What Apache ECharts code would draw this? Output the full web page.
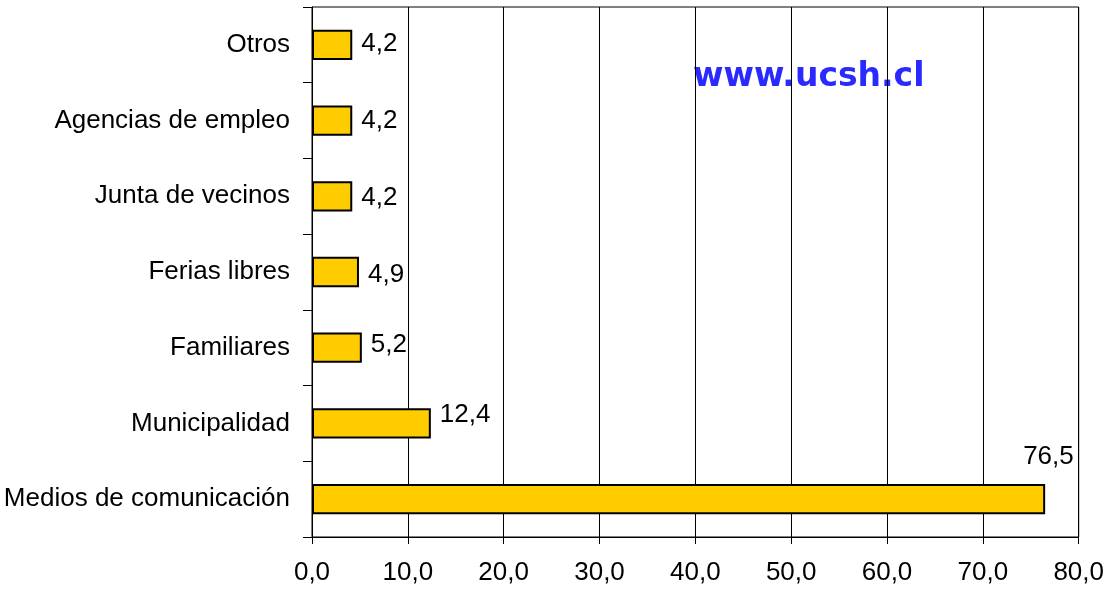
<!DOCTYPE html>
<html>
<head>
<meta charset="utf-8">
<script src="https://cdn.jsdelivr.net/npm/echarts@6/dist/echarts.min.js"></script>
<style>
  html, body { margin: 0; padding: 0; background: #fff; }
  #chart { width: 1107px; height: 591px; }
</style>
</head>
<body>
<div id="chart"></div>
<script>
// bottom to top, as the category axis draws them
const categories = ['Medios de comunicación', 'Municipalidad', 'Familiares', 'Ferias libres', 'Junta de vecinos', 'Agencias de empleo', 'Otros'];
const values = [76.5, 12.4, 5.2, 4.9, 4.2, 4.2, 4.2];
const xTicks = [0, 10, 20, 30, 40, 50, 60, 70, 80];

const fmt = v => Number(v).toFixed(1).replace('.', ',');

const chart = echarts.init(document.getElementById('chart'));

// label offsets per bar, like the picture: most sit right of the bar, the long one above its end
const labelOffsets = [[-27, -42], [4, -9], [4, -3], [4, 3], [4, 2], [4, 0], [4, -1]];

chart.setOption({
  animation: false,
  backgroundColor: '#fff',
  textStyle: { fontFamily: 'Liberation Sans, Arial, sans-serif' },
  grid: {
    left: 312, right: 26, top: 7, bottom: 54,
    show: true, borderColor: '#000', borderWidth: 1
  },
  xAxis: {
    type: 'value',
    min: 0, max: 80, interval: 10,
    axisLine: { show: true, lineStyle: { color: '#000', width: 1 } },
    axisTick: { show: true, length: 7, lineStyle: { color: '#000' } },
    axisLabel: {
      color: '#000', fontSize: 26, margin: 23,
      formatter: v => xTicks.includes(v) ? fmt(v) : ''
    },
    splitLine: { show: true, lineStyle: { color: '#000', width: 1 } }
  },
  yAxis: {
    type: 'category',
    data: categories,
    axisLine: { show: true, lineStyle: { color: '#000', width: 1 } },
    axisTick: { show: true, length: 9, lineStyle: { color: '#000' } },
    axisLabel: { color: '#000', fontSize: 26, margin: 22 },
    splitLine: { show: false }
  },
  series: [{
    type: 'bar',
    barWidth: '40%',
    data: values.map((v, i) => ({
      value: v,
      label: { offset: labelOffsets[i] }
    })),
    itemStyle: { color: '#FFCC00', borderColor: '#000', borderWidth: 2 },
    label: {
      show: true,
      position: 'right',
      color: '#000',
      fontSize: 26,
      formatter: p => fmt(p.value)
    }
  }],
  graphic: [{
    type: 'text',
    x: 693,
    y: 77,
    style: {
      text: 'www.ucsh.cl',
      fill: '#2a2aff',
      font: 'bold 33px DejaVu Sans, sans-serif',
      verticalAlign: 'middle',
      shadowBlur: 3,
      shadowColor: 'rgba(40,40,255,0.7)'
    }
  }]
});
</script>
</body>
</html>
